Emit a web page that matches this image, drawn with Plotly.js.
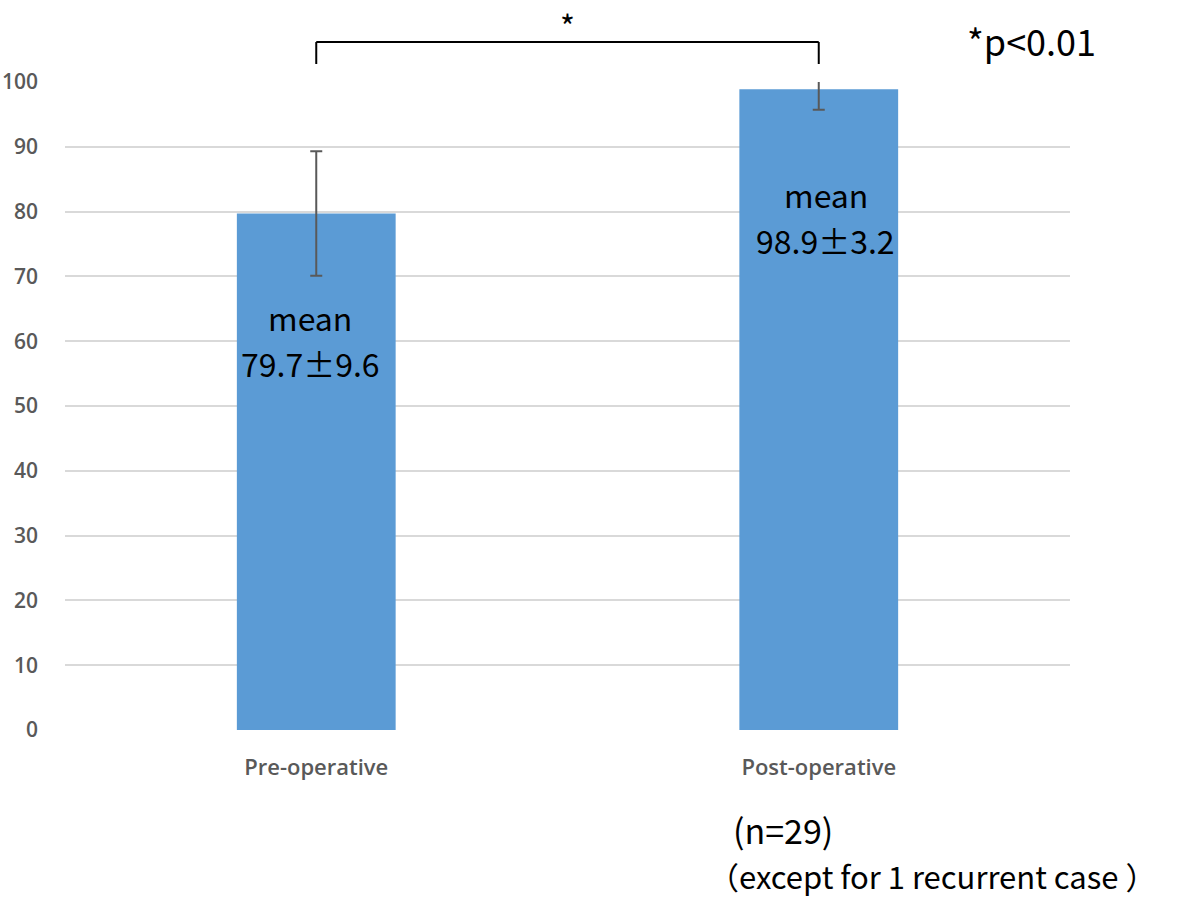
<!DOCTYPE html>
<html>
<head>
<meta charset="utf-8">
<script src="https://cdn.plot.ly/plotly-3.0.1.min.js"></script>
<style>
  html, body { margin: 0; padding: 0; background: #fff; }
  #chart { width: 1184px; height: 900px; }
</style>
</head>
<body>
<div id="chart"></div>
<script>
// data
var groups = ['Pre-operative', 'Post-operative'];
var means = [79.7, 98.9];
var sds = [9.6, 3.2];
var yTicks = [0, 10, 20, 30, 40, 50, 60, 70, 80, 90, 100];

var CJK = '"Noto Sans CJK JP", "Noto Sans", sans-serif';
var TICKFONT = '"Open Sans", "Noto Sans", sans-serif';

var bars = {
  type: 'bar',
  x: groups,
  y: means,
  marker: { color: '#5b9bd5' },
  error_y: {
    type: 'data',
    array: sds,
    visible: true,
    color: '#595959',
    thickness: 2,
    width: 6
  },
  cliponaxis: true,
  hoverinfo: 'none'
};

// mean +- sd labels inside the bars, one annotation per line
var annots = [];
var wordY = [63.7, 82.7];
var valueY = [56.6, 75.6];
var labelShift = [-6, 7];
for (var i = 0; i < groups.length; i++) {
  annots.push({
    x: groups[i], y: wordY[i], xref: 'x', yref: 'y', text: 'mean',
    showarrow: false, xshift: labelShift[i], yanchor: 'middle',
    font: { family: CJK, size: 32, color: '#000' }
  });
  annots.push({
    x: groups[i], y: valueY[i], xref: 'x', yref: 'y',
    text: means[i].toFixed(1) + '±' + sds[i].toFixed(1),
    showarrow: false, xshift: labelShift[i], yanchor: 'middle',
    font: { family: CJK, size: 32, color: '#000' }
  });
}
// significance marks and notes
annots.push({
  x: 0.5, y: 1.1265, xref: 'x', yref: 'paper', text: '*', showarrow: false,
  xanchor: 'center', yanchor: 'top',
  font: { family: CJK, size: 32, color: '#000' }
});
annots.push({
  x: 0.962, y: 1.065, xref: 'paper', yref: 'paper', text: '*p<0.01', showarrow: false,
  xanchor: 'center', yanchor: 'middle',
  font: { family: CJK, size: 36, color: '#000' }
});
annots.push({
  x: 0.7144, y: -0.153, xref: 'paper', yref: 'paper', text: '(n=29)', showarrow: false,
  xanchor: 'center', yanchor: 'middle',
  font: { family: CJK, size: 34, color: '#000' }
});
annots.push({
  x: 0.638, y: -0.2623, xref: 'paper', yref: 'paper', xanchor: 'left', yanchor: 'bottom',
  text: '（except for 1 recurrent case ）', showarrow: false,
  font: { family: CJK, size: 31, color: '#000' }
});

// significance bracket between the two bars
var bLow = 1.0278, bHigh = 1.0617;
var shapes = [
  { type: 'line', xref: 'x', yref: 'paper', x0: 0, x1: 0, y0: bLow, y1: bHigh, line: { color: '#000', width: 2 } },
  { type: 'line', xref: 'x', yref: 'paper', x0: 0, x1: 1, y0: bHigh, y1: bHigh, line: { color: '#000', width: 2 } },
  { type: 'line', xref: 'x', yref: 'paper', x0: 1, x1: 1, y0: bLow, y1: bHigh, line: { color: '#000', width: 2 } }
];

var layout = {
  width: 1184,
  height: 900,
  margin: { l: 65, r: 114, t: 82, b: 170 },
  paper_bgcolor: '#fff',
  plot_bgcolor: '#fff',
  showlegend: false,
  bargap: 0.684,
  xaxis: {
    type: 'category',
    showgrid: false,
    zeroline: false,
    showline: false,
    ticks: '',
    ticklabelstandoff: 22,
    tickfont: { family: TICKFONT, size: 22, color: '#595959', weight: 600 }
  },
  yaxis: {
    range: [0, 100],
    tickvals: yTicks,
    showgrid: true,
    gridcolor: '#d9d9d9',
    gridwidth: 2,
    zeroline: false,
    showline: false,
    ticks: '',
    ticklabelstandoff: 26,
    tickfont: { family: TICKFONT, size: 21, color: '#595959', weight: 600 }
  },
  annotations: annots,
  shapes: shapes
};

Plotly.newPlot('chart', [bars], layout, { displayModeBar: false, staticPlot: true });
</script>
</body>
</html>
